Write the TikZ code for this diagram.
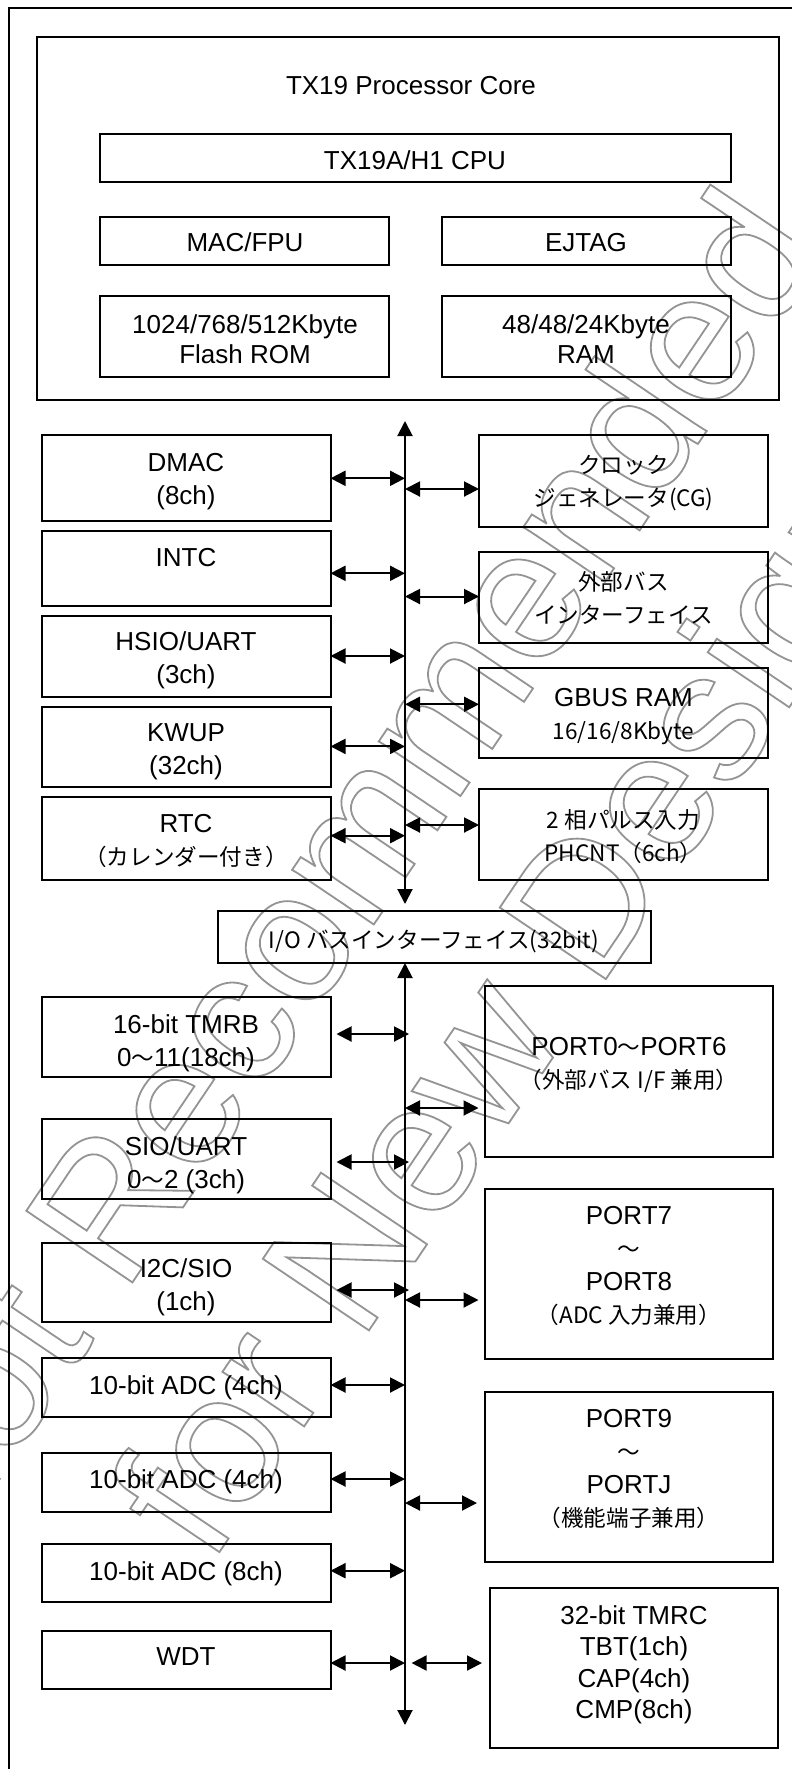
\documentclass[tikz,border=0pt]{standalone}
\usepackage{fontspec}
\setmainfont{Liberation Sans}
\newfontfamily\jpfont{Noto Sans CJK JP}
\newfontfamily\wmfont{Liberation Sans}
\usetikzlibrary{arrows.meta}
\newcommand\jtxt[1]{{\jpfont\fontsize{11.3}{16.5}\selectfont #1}}
\newcommand\wmout[1]{\special{pdf:literal direct 1 Tr 0.9 w}#1\special{pdf:literal direct 0 Tr}}
\newcommand\bx[5]{\node[box, minimum width={(#4-#2)*0.5pt}, minimum height={(#5-#3)*0.5pt}] (#1) at ({(#2+#4)/2},{(#3+#5)/2}) {};}
\tikzset{
  box/.style={draw, line width=1pt, inner sep=0pt, outer sep=0pt},
  txt/.style={align=center, inner sep=0pt, text depth=0pt, font=\fontsize{13}{16.5}\selectfont},
  txtc/.style={txt, font=\fontsize{13}{15}\selectfont},
  txtt/.style={txt, font=\fontsize{13}{15.6}\selectfont},
  biarrow/.style={line width=1pt, {Triangle[length=7.5pt,width=7.5pt]}-{Triangle[length=7.5pt,width=7.5pt]}},
  busline/.style={line width=1pt, {Triangle[length=7.5pt,width=7.5pt]}-{Triangle[length=7.5pt,width=7.5pt]}},
  wm/.style={inner sep=0pt, text=black!42, font=\wmfont\fontsize{93}{100}\selectfont},
}
\begin{document}
\begin{tikzpicture}[x=0.5pt,y=-0.5pt]
\useasboundingbox (0,0) rectangle (792,1769);
\clip (0,0) rectangle (792,1769);
% watermark
\node[wm, rotate=56, anchor=base west] (wm1) at (-67,1578) {\wmout{Not Recommended}};
\node[wm, rotate=56, anchor=base west] (wm2) at (210,1566) {\wmout{for New Design}};
% outer frame
\draw[line width=1pt] (9,8) rectangle (812,1795);
% core
\bx{core}{36.5}{36.7}{778.5}{400}
\node[txt] (coret) at (411,85) {TX19 Processor Core};
\bx{cpu}{100}{134}{730.5}{182}
\node[txt] (cput) at (415,160) {TX19A/H1 CPU};
\bx{mac}{100}{216.5}{389}{264.5}
\node[txt] (mact) at (245,242) {MAC/FPU};
\bx{ejtag}{442}{216.5}{730.5}{264.5}
\node[txt] (ejtagt) at (586,242) {EJTAG};
\bx{flash}{100}{296}{389}{377}
\node[txtc] (flasht) at (245,339) {1024/768/512Kbyte\\Flash ROM};
\bx{ram}{442}{296}{730.5}{377}
\node[txtc] (ramt) at (586,339) {48/48/24Kbyte\\RAM};
% bus coordinates
\coordinate (bus1top) at (405,421);
\coordinate (bus1bot) at (405,904);
\coordinate (bus2bot) at (405,1725);
% upper left
\bx{dmac}{41.5}{435}{330.5}{521}
\node[txt] (dmact) at (186,479) {DMAC\\(8ch)};
\bx{intc}{41.5}{530.5}{330.5}{606}
\node[txt] (intct) at (186,557) {INTC};
\bx{hsio}{41.5}{615.5}{330.5}{696.5}
\node[txt] (hsiot) at (186,658) {HSIO/UART\\(3ch)};
\bx{kwup}{41.5}{706.5}{330.5}{786.5}
\node[txt] (kwupt) at (186,749) {KWUP\\(32ch)};
\bx{rtc}{41.5}{797}{330.5}{879.5}
\node[txt] (rtct) at (186,840) {RTC\\\jtxt{（カレンダー付き）}};
% upper right
\bx{cg}{479}{435}{768}{526.5}
\node[txt] (cgt) at (623.5,481) {\jtxt{クロック}\\\jtxt{ジェネレータ(CG)}};
\bx{ext}{479}{552}{768}{643}
\node[txt] (extt) at (623.5,597) {\jtxt{外部バス}\\\jtxt{インターフェイス}};
\bx{gbus}{479}{668}{768}{758}
\node[txt] (gbust) at (623.5,714) {GBUS RAM\\\jtxt{16/16/8Kbyte}};
\bx{phc}{479}{788.5}{768}{879.5}
\node[txt] (phct) at (623.5,835) {\jtxt{2 相パルス入力}\\\jtxt{PHCNT（6ch）}};
% I/O bus interface
\bx{io}{218}{910.7}{650.5}{963}
\node[txt] (iot) at (434,939) {\jtxt{I/O バスインターフェイス(32bit)}};
% lower left
\bx{tmrb}{41.5}{996.7}{330.5}{1076.7}
\node[txt] (tmrbt) at (186,1040.5) {16-bit TMRB\\0\jtxt{～}11(18ch)};
\bx{sio}{41.5}{1119.3}{330.5}{1199.3}
\node[txt] (siot) at (186,1163) {SIO/UART\\0\jtxt{～}2 (3ch)};
\bx{itc}{41.5}{1242.7}{330.5}{1322}
\node[txt] (itct) at (186,1285) {I2C/SIO\\(1ch)};
\bx{adca}{41.5}{1357.7}{330.5}{1416.7}
\node[txt] (adcat) at (186,1385) {10-bit ADC (4ch)};
\bx{adcb}{41.5}{1453}{330.5}{1512}
\node[txt] (adcbt) at (186,1479) {10-bit ADC (4ch)};
\bx{adcc}{41.5}{1544}{330.5}{1602.3}
\node[txt] (adcct) at (186,1571) {10-bit ADC (8ch)};
\bx{wdt}{41.5}{1630.7}{330.5}{1689}
\node[txt] (wdtt) at (186,1657) {WDT};
% lower right
\bx{pa}{484.5}{986}{773}{1156.7}
\node[txt] (pat) at (629,1063) {PORT0\jtxt{～}PORT6\\\jtxt{（外部バス I/F 兼用）}};
\bx{pb}{484.5}{1189.3}{773}{1359}
\node[txt] (pbt) at (629,1265) {PORT7\\\jtxt{～}\\PORT8\\\jtxt{（ADC 入力兼用）}};
\bx{pc}{485}{1392}{773}{1562.3}
\node[txt] (pct) at (629,1468) {PORT9\\\jtxt{～}\\PORTJ\\\jtxt{（機能端子兼用）}};
\bx{tmrc}{490}{1588}{778}{1748}
\node[txtt] (tmrct) at (634,1662) {32-bit TMRC\\TBT(1ch)\\CAP(4ch)\\CMP(8ch)};
% buses
\draw[busline] (bus1top) -- (bus1bot);
\draw[busline] (io.south -| bus2bot) -- (bus2bot);
% upper arrows
\draw[biarrow] (dmac.east |- 0,478.3) -- (bus1top |- 0,478.3);
\draw[biarrow] (intc.east |- 0,573.3) -- (bus1top |- 0,573.3);
\draw[biarrow] (hsio.east |- 0,656) -- (bus1top |- 0,656);
\draw[biarrow] (kwup.east |- 0,746.4) -- (bus1top |- 0,746.4);
\draw[biarrow] (rtc.east |- 0,835.7) -- (bus1top |- 0,835.7);
\draw[biarrow] (bus1top |- 0,489) -- (cg.west |- 0,489);
\draw[biarrow] (bus1top |- 0,596.5) -- (ext.west |- 0,596.5);
\draw[biarrow] (bus1top |- 0,704.3) -- (gbus.west |- 0,704.3);
\draw[biarrow] (bus1top |- 0,825) -- (phc.west |- 0,825);
% lower arrows
\draw[biarrow] ([xshift=3pt]tmrb.east |- 0,1034) -- ([xshift=2pt]bus2bot |- 0,1034);
\draw[biarrow] ([xshift=3pt]sio.east |- 0,1162) -- ([xshift=2pt]bus2bot |- 0,1162);
\draw[biarrow] ([xshift=3pt]itc.east |- 0,1290) -- ([xshift=2pt]bus2bot |- 0,1290);
\draw[biarrow] (adca.east |- 0,1385) -- (bus2bot |- 0,1385);
\draw[biarrow] (adcb.east |- 0,1479) -- (bus2bot |- 0,1479);
\draw[biarrow] (adcc.east |- 0,1570.7) -- (bus2bot |- 0,1570.7);
\draw[biarrow] (wdt.east |- 0,1663) -- (bus2bot |- 0,1663);
\draw[biarrow] (bus2bot |- 0,1108) -- ([xshift=-3pt]pa.west |- 0,1108);
\draw[biarrow] (bus2bot |- 0,1300) -- ([xshift=-3pt]pb.west |- 0,1300);
\draw[biarrow] (bus2bot |- 0,1503) -- ([xshift=-4pt]pc.west |- 0,1503);
\draw[biarrow] ([xshift=3.3pt]bus2bot |- 0,1663) -- ([xshift=-4pt]tmrc.west |- 0,1663);
\end{tikzpicture}
\end{document}
